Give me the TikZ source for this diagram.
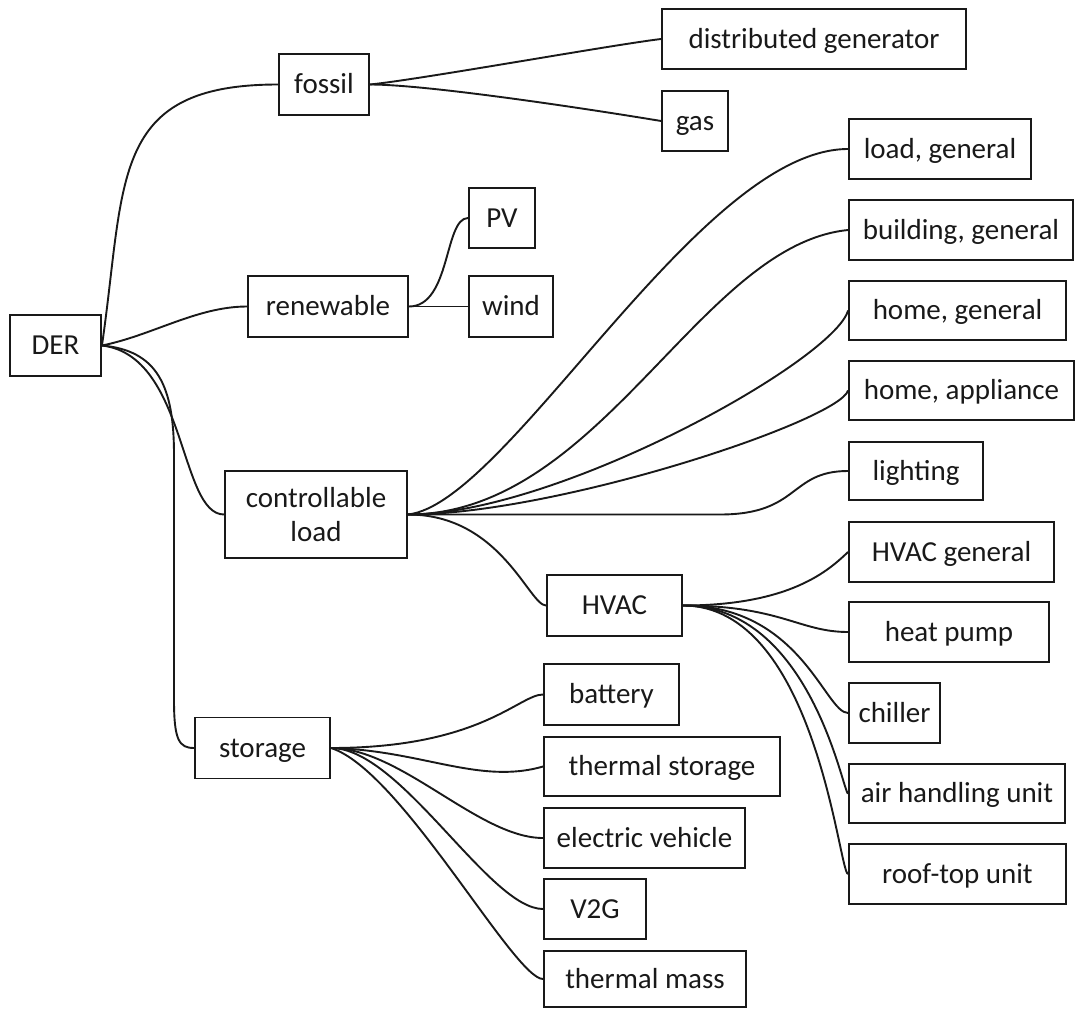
\documentclass[tikz,border=0pt]{standalone}
\usepackage{fontspec}
\setmainfont{Carlito}
\definecolor{ink}{RGB}{25,25,25}
\begin{document}
\begin{tikzpicture}[x=1pt,y=-1pt,
  box/.style={draw=ink, line width=1.9pt, rectangle, inner sep=0pt, text=ink,
    font=\fontsize{29}{34}\selectfont},
  word/.style={box, text height=18.7pt, text depth=0pt},
  link/.style={draw=ink, line width=1.9pt}]
\useasboundingbox (0,0) rectangle (1077,1009);
% nodes
\node[word, minimum width=91pt, minimum height=61pt] (der) at (55.5,345.5) {DER};
\node[word, minimum width=90pt, minimum height=61pt] (fossil) at (324,84.5) {fossil};
\node[word, minimum width=304pt, minimum height=60pt] (distgen) at (814,39) {distributed generator};
\node[word, minimum width=66pt, minimum height=60pt] (gas) at (695,121) {gas};
\node[word, minimum width=160pt, minimum height=61pt] (renew) at (328,306.5) {renewable};
\node[word, minimum width=66pt, minimum height=60pt] (pv) at (502,218) {PV};
\node[word, minimum width=84pt, minimum height=61pt] (wind) at (511,306.5) {wind};
\node[box, align=center, minimum width=182pt, minimum height=87pt] (ctrl) at (316,514.5) {controllable\\load};
\node[word, minimum width=182pt, minimum height=60pt] (loadgen) at (940,149) {load, general};
\node[word, minimum width=224pt, minimum height=60pt] (building) at (961,230) {building, general};
\node[word, minimum width=217pt, minimum height=59pt] (homegen) at (957.5,310.5) {home, general};
\node[word, minimum width=225pt, minimum height=59pt] (homeapp) at (961.5,390.5) {home, appliance};
\node[word, minimum width=134pt, minimum height=58pt] (lighting) at (916,471) {lighting};
\node[word, minimum width=135pt, minimum height=61pt] (hvac) at (614.5,605.5) {HVAC};
\node[word, minimum width=205pt, minimum height=60pt] (hvacgen) at (951.5,552) {HVAC general};
\node[word, minimum width=200pt, minimum height=60pt] (heatpump) at (949,632) {heat pump};
\node[word, minimum width=91pt, minimum height=60pt] (chiller) at (894.5,713) {chiller};
\node[word, minimum width=216pt, minimum height=59pt] (ahu) at (957,793.5) {air handling unit};
\node[word, minimum width=217pt, minimum height=60pt] (rtu) at (957.5,874) {roof-top unit};
\node[word, minimum width=135pt, minimum height=61pt] (storage) at (262.5,748) {storage};
\node[word, minimum width=135pt, minimum height=61pt] (battery) at (611.5,694.5) {battery};
\node[word, minimum width=236pt, minimum height=59pt] (thermstor) at (662,766.5) {thermal storage};
\node[word, minimum width=201pt, minimum height=60pt] (ev) at (644.5,838) {electric vehicle};
\node[word, minimum width=102pt, minimum height=60pt] (v2g) at (595,909) {V2G};
\node[word, minimum width=202pt, minimum height=56pt] (thermmass) at (645,979) {thermal mass};
% helper coordinates
\coordinate (dsA) at (174,455);
\coordinate (dsB) at (174,700);
\coordinate (lgA) at (720,514.5);
% DER edges
\draw[link] (der.east) .. controls +(24,-165.5) and +(-169,0) .. (fossil.west);
\draw[link] (der.east) .. controls +(50,-10) and +(-50,0) .. (renew.west);
\draw[link] (der.east) .. controls +(85,10) and +(-45,0) .. (ctrl.west);
\draw[link] (der.east) .. controls +(55,5) and +(0,-70) .. (dsA) -- (dsB)
  .. controls +(0,40) and +(-15,0) .. (storage.west);
% fossil
\draw[link] (fossil.east) .. controls +(50,-5) and +(-50,6) .. (distgen.west);
\draw[link] (fossil.east) .. controls +(60,0) and +(-60,-10) .. (gas.west);
% renewable
\draw[link] (renew.east) .. controls +(42,0) and +(-24,0) .. (pv.west);
\draw[link] (renew.east) -- (wind.west);
% controllable load
\draw[link] (ctrl.east) .. controls +(100,-11) and +(-149,0) .. (loadgen.west);
\draw[link] (ctrl.east) .. controls +(193,0) and +(-149,15) .. (building.west);
\draw[link] (ctrl.east) .. controls +(150,0) and +(-14,50) .. (homegen.west);
\draw[link] (ctrl.east) .. controls +(150,0) and +(-9,30) .. (homeapp.west);
\draw[link] (ctrl.east) -- (lgA) .. controls +(80,0) and +(-59,0) .. (lighting.west);
\draw[link] (ctrl.east) .. controls +(93,0) and +(-17,0) .. (hvac.west);
% HVAC
\draw[link] (hvac.east) .. controls +(108,0) and +(-19,18) .. (hvacgen.west);
\draw[link] (hvac.east) .. controls +(98,0) and +(-49,0) .. (heatpump.west);
\draw[link] (hvac.east) .. controls +(118,0) and +(-23,0) .. (chiller.west);
\draw[link] (hvac.east) .. controls +(128,0) and +(-5,0) .. (ahu.west);
\draw[link] (hvac.east) .. controls +(133,0) and +(-9,0) .. (rtu.west);
% storage
\draw[link] (storage.east) .. controls +(150,0) and +(-24,0) .. (battery.west);
\draw[link] (storage.east) .. controls +(90,2) and +(-64,18.5) .. (thermstor.west);
\draw[link] (storage.east) .. controls +(70,0) and +(-64,0) .. (ev.west);
\draw[link] (storage.east) .. controls +(70,0) and +(-54,0) .. (v2g.west);
\draw[link] (storage.east) .. controls +(70,22) and +(-29,0) .. (thermmass.west);
\end{tikzpicture}
\end{document}
